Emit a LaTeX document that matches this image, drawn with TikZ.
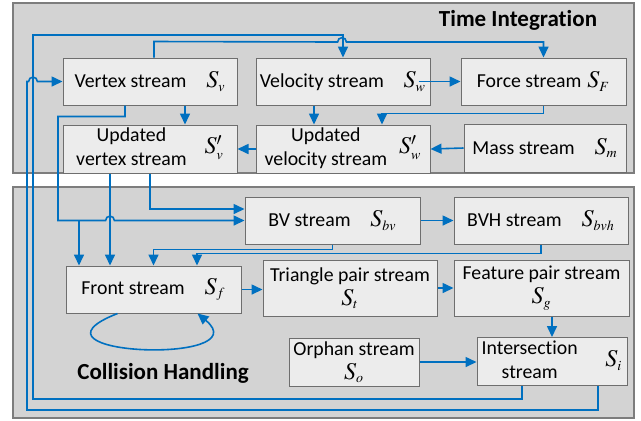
\documentclass[tikz,border=0pt]{standalone}
\usepackage{mathptmx}
\usepackage{fontspec}
\setmainfont{Carlito}[Ligatures=NoCommon]
\usepackage{tikz}
\usetikzlibrary{
    arrows.meta,
    positioning,
    calc
}

\definecolor{flowblue}{RGB}{0,112,192}
\definecolor{panelfill}{RGB}{211,211,211}
\definecolor{paneldraw}{RGB}{125,125,125}
\definecolor{boxfill}{RGB}{236,236,236}
\definecolor{boxdraw}{RGB}{110,110,110}

% stream symbol: S with a small subscript
\newcommand{\sym}[2]{{\large$S#1_{\scriptscriptstyle #2}$}}

\begin{document}
\begin{tikzpicture}[
    x=0.5pt, y=-0.5pt,
    >={Triangle[length=5.5pt, width=5pt]},
    font=\fontsize{9.9}{12}\selectfont,
    panel/.style={draw=paneldraw, line width=1pt, fill=panelfill},
    stream/.style={rectangle, draw=boxdraw, fill=boxfill, line width=0.5pt,
                   minimum width=87pt, minimum height=23.5pt,
                   inner xsep=1.5pt, inner ysep=1pt, align=center},
    flow/.style={->, draw=flowblue, line width=0.8pt},
    title/.style={font=\fontsize{11.5}{13}\selectfont\bfseries},
    hop/.style={start angle=180, end angle=0, radius=2.2pt}
]
\useasboundingbox (0,0) rectangle (641,420);

% =========================
% 1) PANELS
% =========================
\draw[panel] (13,3) rectangle (634,173);
\draw[panel] (13,187) rectangle (634,418);

\node[title] (ti) at (518,20) {Time Integration};
\node[title] (ch) at (163,373) {Collision Handling};

% =========================
% 2) TIME INTEGRATION
% =========================
\node[stream] (Vertex) at (150,81.5) {Vertex stream\hspace{1em}\sym{}{v}};
\node[stream, right=9pt of Vertex] (Velocity)
    {Velocity stream\hspace{1em}\sym{}{w}};
\node[stream, right=15pt of Velocity, minimum width=82.5pt] (Force)
    {Force stream\hspace{0.3em}\sym{}{F}};
\node[stream, below=9.5pt of Vertex, minimum height=24pt, inner ysep=0pt] (UVertex)
    {\begin{tabular}{@{}c@{}}Updated\\vertex stream\end{tabular}\hspace{0.9em}\sym{'}{v}};
\node[stream, below=9.5pt of Velocity, minimum height=24pt, inner ysep=0pt] (UVelocity)
    {\begin{tabular}{@{}c@{}}Updated\\velocity stream\end{tabular}\hspace{0.6em}\sym{'}{w}};
\node[stream, minimum width=81pt, minimum height=24pt] (Mass) at (545,148)
    {Mass stream\hspace{1em}\sym{}{m}};

\draw[flow] ($(Vertex.south)+(35,0)$) -- ($(UVertex.north)+(35,0)$);
\draw[flow] ($(Velocity.south)+(-29,0)$) -- ($(UVelocity.north)+(-29,0)$);
\draw[flow] (Force.south) -- ++(0,8) -| ($(UVelocity.north)+(39,0)$);
\draw[flow] (Mass.west) -- (UVelocity.east);
\draw[flow] (UVelocity.west) -- (UVertex.east);
\draw[flow] ($(Velocity.east)+(-12,0)$) -- (Force.west);
\draw[flow] ($(Vertex.north)+(4,0)$) -- ++(0,-16) -- (337.6,42)
    arc[hop] -| (Force.north);

% =========================
% 3) COLLISION HANDLING
% =========================
\node[stream, minimum width=87.5pt] (BV) at (332.5,220.5)
    {BV stream\hspace{1em}\sym{}{bv}};
\node[stream, right=16.5pt of BV] (BVH)
    {BVH stream\hspace{1em}\sym{}{bvh}};
\node[stream, minimum width=87.5pt] (Front) at (153.5,289.5)
    {Front stream\hspace{1em}\sym{}{f}};
\node[stream, minimum height=28pt] (Triangle) at (350,288)
    {Triangle pair stream\\\sym{}{t}};
\node[stream, right=8pt of Triangle, minimum width=87.5pt, minimum height=28pt] (Feature)
    {Feature pair stream\\\sym{}{g}};
\node[stream, minimum width=65pt, minimum height=24pt] (Orphan) at (354,362)
    {Orphan stream\\\sym{}{o}};
\node[stream, minimum width=75pt, inner ysep=0pt] (Inter) at (552,361.5)
    {\begin{tabular}{@{}c@{}}Intersection\\stream\end{tabular}\hspace{1.4em}\sym{}{i}};

\coordinate (split) at (79,220.5);
\coordinate (uvdrop) at ($(UVertex.south)+(-40,0)$);

\draw[flow] ($(Vertex.south)+(-25,0)$) -- ++(0,11) -| (58,220.5) -- (105.6,220.5)
    arc[hop] -- (BV.west);
\draw[flow] (split) -- (split |- Front.north);
\draw[flow] (uvdrop) -- (uvdrop |- Front.north);
\draw[flow] (UVertex.south) |- ($(BV.west)+(0,-11.5)$);
\draw[flow] (BV.east) -- (BVH.west);
\draw[flow] (BV.south) -- ++(0,5) -| (Front.north);
\draw[flow] (BVH.south) -- ++(0,9) -| ($(Front.north)+(43.5,0)$);
\draw[flow] (Front.east) -- (Front.east -| Triangle.west);
\draw[flow] (Triangle.east) -- (Feature.west);
\draw[flow] (Inter.north |- Feature.south) -- (Inter.north);
\draw[flow] (Orphan.east) -- (Orphan.east -| Inter.west);
\draw[flow] ($(Front.south)+(-36,0)$) .. controls +(-107,42) and +(63,52)
    .. ($(Front.south)+(44,0)$);

% feedback to the time integration
\draw[flow] ($(Inter.south)+(-30,0)$) -- ++(0,13) -| (33,35) -| (Velocity.north);
\draw[flow] ($(Inter.south)+(46,0)$) -- ++(0,24) -| (27,81.5) -- (28.6,81.5)
    arc[hop] -- (Vertex.west);

\end{tikzpicture}
\end{document}
